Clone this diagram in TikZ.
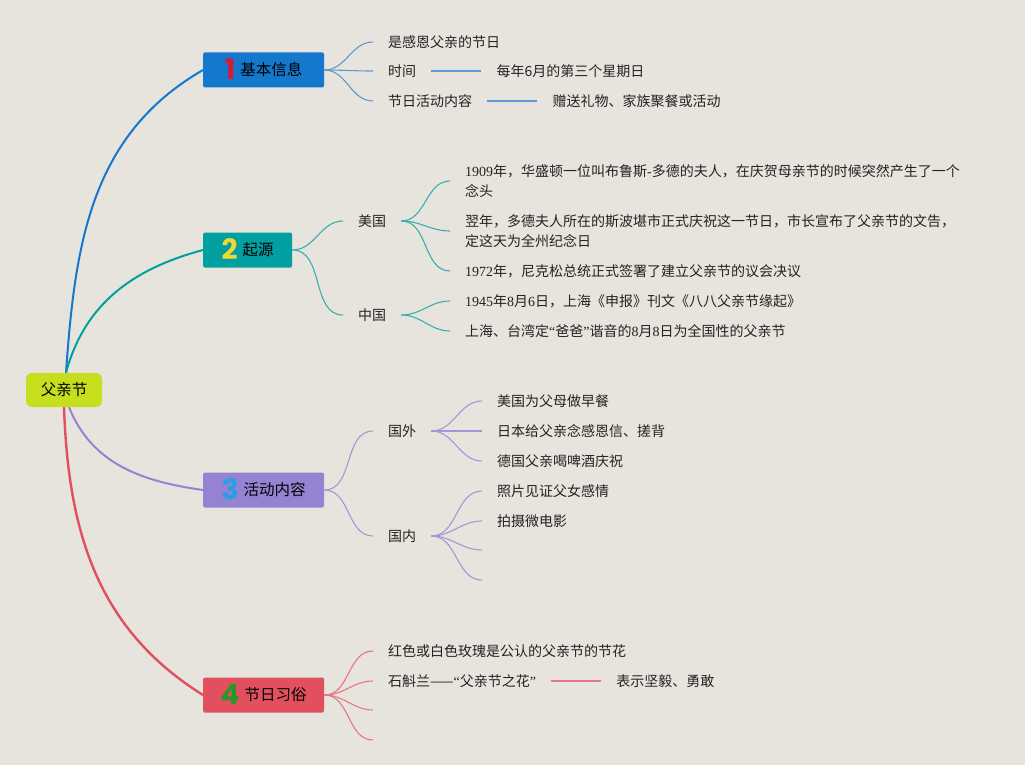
\documentclass[tikz,border=0pt]{standalone}
\usepackage{fontspec}
\setmainfont{Noto Sans CJK SC}
\newfontfamily\lat{Liberation Serif}
\newfontfamily\numfont{Poppins}
\usepackage{xcolor}
\usepackage{tikz}
\usetikzlibrary{positioning}
\definecolor{bgpaper}{RGB}{231,228,221}
\definecolor{mytext}{RGB}{35,35,35}
\definecolor{rootgreen}{RGB}{198,222,30}
\definecolor{myblue}{RGB}{20,120,205}
\definecolor{lineblue}{RGB}{95,155,210}
\definecolor{myteal}{RGB}{0,160,160}
\definecolor{lineteal}{RGB}{55,175,175}
\definecolor{mypurple}{RGB}{150,130,210}
\definecolor{linepurple}{RGB}{165,150,215}
\definecolor{myred}{RGB}{226,80,95}
\definecolor{linered}{RGB}{228,120,130}
\definecolor{numred}{RGB}{215,25,50}
\definecolor{numyellow}{RGB}{245,215,50}
\definecolor{numblue}{RGB}{35,160,230}
\definecolor{numgreen}{RGB}{40,150,40}
\tikzset{
  rootnode/.style={rectangle, fill=rootgreen, rounded corners=6pt,
    minimum width=76pt, minimum height=34pt,
    font=\fontsize{15.5pt}{18pt}\selectfont},
  topic/.style={rectangle, rounded corners=1.5pt, anchor=west,
    minimum height=35pt, inner xsep=0pt,
    font=\fontsize{15.5pt}{18pt}\selectfont},
  leaf/.style={anchor=west, inner xsep=15pt, inner ysep=3pt,
    align=left, text=mytext, font=\fontsize{14pt}{20pt}\selectfont},
  mainline/.style={line width=2pt},
  subline/.style={line width=1.1pt},
  fan/.style={out=0, in=180}
}
\newcommand{\bignum}[2]{\smash{\raisebox{-4pt}{\numfont\bfseries\fontsize{28pt}{28pt}\selectfont\color{#1}#2}}\hspace{5pt}}

\begin{document}
\begin{tikzpicture}[x=1pt, y=-1pt]
  \fill[bgpaper] (0,0) rectangle (1025,765);
  \useasboundingbox (0,0) rectangle (1025,765);

  % root and the four topics
  \node[rootnode] (root) at (64,390) {父亲节};
  \node[topic, fill=myblue, minimum width=121pt] (basic) at (203,70) {\bignum{numred}{1}基本信息};
  \node[topic, fill=myteal, minimum width=89pt] (origin) at (203,250) {\bignum{numyellow}{2}起源};
  \node[topic, fill=mypurple, minimum width=121pt] (activity) at (203,490) {\bignum{numblue}{3}活动内容};
  \node[topic, fill=myred, minimum width=121pt] (custom) at (203,695) {\bignum{numgreen}{4}节日习俗};

  \draw[mainline, myblue] ([xshift=2pt]root.north) to[out=86, in=210] (basic.west);
  \draw[mainline, myteal] ([xshift=2pt]root.north) to[out=75, in=195] (origin.west);
  \draw[mainline, mypurple] ([xshift=5pt]root.south) to[out=-68, in=172] (activity.west);
  \draw[line width=2.4pt, myred] (root.south) to[out=-88, in=148] (custom.west);

  % 1 basic
  \node[leaf] (thanks) at (373,42) {是感恩父亲的节日};
  \node[leaf] (time) at (373,71) {时间};
  \node[leaf] (content) at (373,101) {节日活动内容};
  \node[leaf, right=50pt of time] (date) {每年6月的第三个星期日};
  \node[leaf, right=50pt of content] (gift) {赠送礼物、家族聚餐或活动};
  \foreach \n in {thanks, time, content}
    \draw[subline, lineblue] (basic.east) to[fan] (\n.west);
  \draw[subline, lineblue] (time) -- (date);
  \draw[subline, lineblue] (content) -- (gift);

  % 2 origin
  \node[leaf] (usa) at (343,221) {美国};
  \node[leaf] (china) at (343,315) {中国};
  \node[leaf] (dodd) at (450,181) {{\lat 1909}年，华盛顿一位叫布鲁斯{\lat -}多德的夫人，在庆贺母亲节的时候突然产生了一个\\念头};
  \node[leaf] (spokane) at (450,231) {翌年，多德夫人所在的斯波堪市正式庆祝这一节日，市长宣布了父亲节的文告，\\定这天为全州纪念日};
  \node[leaf] (nixon) at (450,271) {{\lat 1972}年，尼克松总统正式签署了建立父亲节的议会决议};
  \node[leaf] (shenbao) at (450,301) {{\lat 1945}年{\lat 8}月{\lat 6}日，上海《申报》刊文《八八父亲节缘起》};
  \node[leaf] (baba) at (450,331) {上海、台湾定{\lat “}爸爸{\lat ”}谐音的{\lat 8}月{\lat 8}日为全国性的父亲节};
  \foreach \n in {usa, china}
    \draw[subline, lineteal] (origin.east) to[fan] (\n.west);
  \foreach \n in {dodd, spokane, nixon}
    \draw[subline, lineteal] (usa.east) to[fan] (\n.west);
  \foreach \n in {shenbao, baba}
    \draw[subline, lineteal] (china.east) to[fan] (\n.west);

  % 3 activity
  \node[leaf] (abroad) at (373,431) {国外};
  \node[leaf] (home) at (373,536) {国内};
  \node[leaf] (breakfast) at (482,401) {美国为父母做早餐};
  \node[leaf] (letter) at (482,431) {日本给父亲念感恩信、搓背};
  \node[leaf] (beer) at (482,461) {德国父亲喝啤酒庆祝};
  \node[leaf] (photo) at (482,491) {照片见证父女感情};
  \node[leaf] (film) at (482,521) {拍摄微电影};
  \coordinate (homeA) at (482,550);
  \coordinate (homeB) at (482,580);
  \foreach \n in {abroad, home}
    \draw[subline, linepurple] (activity.east) to[fan] (\n.west);
  \foreach \n in {breakfast, letter, beer}
    \draw[subline, linepurple] (abroad.east) to[fan] (\n.west);
  \foreach \n in {photo.west, film.west, homeA, homeB}
    \draw[subline, linepurple] (home.east) to[fan] (\n);

  % 4 custom
  \node[leaf] (rose) at (373,651) {红色或白色玫瑰是公认的父亲节的节花};
  \node[leaf] (orchid) at (373,681) {石斛兰——{\lat “}父亲节之花{\lat ”}};
  \node[leaf, right=50pt of orchid] (meaning) {表示坚毅、勇敢};
  \coordinate (customA) at (373,710);
  \coordinate (customB) at (373,740);
  \foreach \n in {rose.west, orchid.west, customA, customB}
    \draw[subline, linered] (custom.east) to[fan] (\n);
  \draw[subline, linered] (orchid) -- (meaning);
\end{tikzpicture}
\end{document}
